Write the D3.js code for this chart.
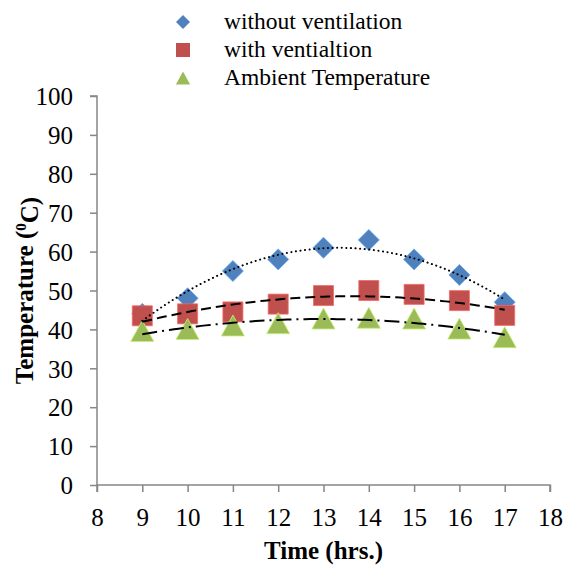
<!DOCTYPE html>
<html>
<head>
<meta charset="utf-8">
<script src="https://cdn.jsdelivr.net/npm/d3@7"></script>
<style>
  body { margin: 0; background: #fff; }
</style>
</head>
<body>
<div id="chart"></div>
<script>
const hours = [9, 10, 11, 12, 13, 14, 15, 16, 17];
const withoutVent = [44, 48, 55, 58, 61, 63, 58, 54, 47];
const withVent = [43.5, 44, 44.5, 46.5, 48.7, 50, 49, 47.4, 43.6];
const ambient = [39.6, 40.1, 41, 41.6, 42.8, 43, 42.8, 40.2, 38];
const seriesNames = ["without ventilation", "with ventialtion", "Ambient Temperature"];
const xTicks = d3.range(8, 19);
const yTicks = d3.range(0, 101, 10);

const width = 566;
const height = 567;
const margin = { top: 96, left: 97, bottom: 82, right: 16 };
const serif = '"Liberation Serif", "Times New Roman", serif';

const svg = d3.select("#chart").append("svg")
  .attr("width", width).attr("height", height);

const g = svg.append("g")
  .attr("transform", `translate(${margin.left},${margin.top})`);

const x = d3.scaleLinear().domain([8, 18]).range([0, 453]);
const y = d3.scaleLinear().domain([0, 100]).range([389, 0]);

// least squares fit of order 2, like the spreadsheet trendline
function polyFit(xs, ys) {
  let s = [0, 0, 0, 0, 0], t = [0, 0, 0];
  xs.forEach((xv, i) => {
    for (let k = 0; k < 5; k++) s[k] += Math.pow(xv, k);
    for (let k = 0; k < 3; k++) t[k] += ys[i] * Math.pow(xv, k);
  });
  const A = [[s[0], s[1], s[2]], [s[1], s[2], s[3]], [s[2], s[3], s[4]]];
  const det = (m) => m[0][0] * (m[1][1] * m[2][2] - m[1][2] * m[2][1])
    - m[0][1] * (m[1][0] * m[2][2] - m[1][2] * m[2][0])
    + m[0][2] * (m[1][0] * m[2][1] - m[1][1] * m[2][0]);
  const D = det(A);
  const c = [0, 1, 2].map((j) => {
    const M = A.map((row, i) => row.map((v, k) => (k === j ? t[i] : v)));
    return det(M) / D;
  });
  return (xv) => c[0] + c[1] * xv + c[2] * xv * xv;
}

// symbol types where size = half width
const diamond = { draw(ctx, r) { ctx.moveTo(0, -r); ctx.lineTo(r, 0); ctx.lineTo(0, r); ctx.lineTo(-r, 0); ctx.closePath(); } };
const square = { draw(ctx, r) { ctx.rect(-r, -r, 2 * r, 2 * r); } };
const triangle = { draw(ctx, r) { ctx.moveTo(0, -r); ctx.lineTo(r * 1.1, r); ctx.lineTo(-r * 1.1, r); ctx.closePath(); } };

const series = [
  { name: seriesNames[0], values: withoutVent, color: "#4F81BD", shape: diamond, size: 10.5, lsize: 7, dash: "0.1,4.5", cap: "round" },
  { name: seriesNames[1], values: withVent, color: "#C0504D", shape: square, size: 10, lsize: 7, dash: "10,5", cap: "butt" },
  { name: seriesNames[2], values: ambient, color: "#9BBB59", shape: triangle, size: 10.5, lsize: 6.5, dash: "15,5,2,5", cap: "butt" }
];

// axes
const axisColor = "#868686";
const yAxis = g.append("g").call(d3.axisLeft(y).tickValues(yTicks).tickSize(7).tickPadding(17));
const xAxis = g.append("g").attr("transform", `translate(0,${y(0)})`)
  .call(d3.axisBottom(x).tickValues(xTicks).tickSize(7).tickPadding(16));
[yAxis, xAxis].forEach((a) => {
  a.attr("font-family", null).attr("font-size", null);
  a.select(".domain").attr("stroke", axisColor).attr("stroke-width", 1.5);
  a.selectAll(".tick line").attr("stroke", axisColor).attr("stroke-width", 1.5);
  a.selectAll(".tick text").attr("fill", "#000").style("font-size", "25px");
});
yAxis.selectAll(".tick text").attr("dy", "0.35em");
xAxis.select(".domain").attr("d", `M0,7V0H${x(18)}V7`);
yAxis.select(".domain").attr("d", `M-7,0H0V${y(0)}`);

// markers
series.forEach((s) => {
  g.selectAll(null).data(s.values).enter().append("path")
    .attr("d", d3.symbol().type(s.shape).size(s.size))
    .attr("transform", (d, i) => `translate(${x(hours[i])},${y(d)})`)
    .attr("fill", s.color)
    .attr("stroke", d3.color(s.color).brighter(0.7))
    .attr("stroke-width", 0.8);
});

// trendlines
series.forEach((s) => {
  const f = polyFit(hours, s.values);
  const pts = d3.range(9, 17.001, 0.1);
  g.append("path")
    .datum(pts)
    .attr("fill", "none")
    .attr("stroke", "#000")
    .attr("stroke-width", 2)
    .attr("stroke-dasharray", s.dash)
    .attr("stroke-linecap", s.cap)
    .attr("d", d3.line().x((d) => x(d)).y((d) => y(f(d))));
});

// legend
const legend = svg.append("g").attr("transform", "translate(183,22)");
series.forEach((s, i) => {
  const row = legend.append("g").attr("transform", `translate(0,${i * 28})`);
  row.append("path")
    .attr("d", d3.symbol().type(s.shape).size(s.lsize))
    .attr("fill", s.color);
  row.append("text").attr("x", 41).attr("y", 7)
    .style("font-size", "23.5px").text(s.name);
});

// axis titles
svg.append("text")
  .attr("x", margin.left + x(13)).attr("y", 559)
  .attr("text-anchor", "middle")
  .style("font-size", "25px").style("font-weight", "bold")
  .text("Time (hrs.)");

const yt = svg.append("text")
  .attr("transform", `translate(33,${margin.top + y(50)}) rotate(-90)`)
  .attr("text-anchor", "middle")
  .style("font-size", "25px").style("font-weight", "bold");
yt.append("tspan").text("Temperature (");
yt.append("tspan").attr("dy", "-0.45em").style("font-size", "15px").text("0");
yt.append("tspan").attr("dy", "0.45em").text("C)");

svg.selectAll("text").style("font-family", serif);
</script>
</body>
</html>
